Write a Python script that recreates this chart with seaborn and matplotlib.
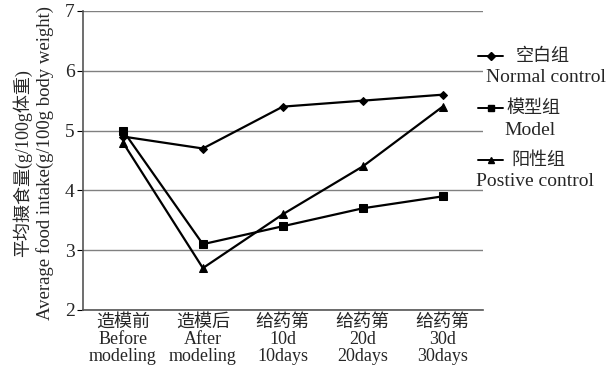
import matplotlib
matplotlib.use("Agg")
import matplotlib.pyplot as plt
import seaborn as sns
import pandas as pd
from matplotlib.lines import Line2D

categories = ["造模前\nBefore\nmodeling", "造模后\nAfter\nmodeling",
              "给药第\n10d\n10days", "给药第\n20d\n20days", "给药第\n30d\n30days"]
normal = [4.9, 4.7, 5.4, 5.5, 5.6]
model = [5.0, 3.1, 3.4, 3.7, 3.9]
positive = [4.8, 2.7, 3.6, 4.4, 5.4]
group_names = ["空白组", "模型组", "阳性组"]
group_english = ["Normal control", "Model", "Postive control"]
yticks = [2, 3, 4, 5, 6, 7]

sns.set_style("white")
plt.rcParams['font.family'] = ['Liberation Serif', 'Noto Sans CJK SC']

rows = []
for g, vals in zip(group_names, [normal, model, positive]):
    for i, v in enumerate(vals):
        rows.append({"x": i, "y": v, "group": g})
df = pd.DataFrame(rows)

fig = plt.figure(figsize=(6.12, 3.78), dpi=100)
ax = fig.add_axes([0.1356, 0.180, 0.653, 0.791])

markers = {"空白组": "D", "模型组": "s", "阳性组": "^"}
sizes = {"空白组": 4, "模型组": 6, "阳性组": 6}
for g in group_names:
    sub = df[df.group == g]
    sns.lineplot(data=sub, x="x", y="y", ax=ax, color="black", lw=1.6,
                 marker=markers[g], markersize=sizes[g], markeredgecolor="black",
                 legend=False, zorder=3)

ax.set_xlim(-0.5, 4.5)
ax.set_ylim(2, 7)
ax.set_yticks(yticks)
ax.set_yticklabels([str(t) for t in yticks], fontsize=14)
ax.set_xticks(range(5))
ax.set_xticklabels(categories, fontsize=13, linespacing=1.0)
ax.set_xticks([0.5, 1.5, 2.5, 3.5, 4.5], minor=True)
ax.tick_params(axis='x', which='major', length=0, pad=3)
ax.tick_params(axis='x', which='minor', length=4, direction='in', color='black')
ax.tick_params(axis='y', which='major', length=4, direction='out', color='black', pad=2, left=True)
ax.yaxis.grid(True, color='#808080', lw=1.0)
ax.set_axisbelow(True)
for s in ["top", "right"]:
    ax.spines[s].set_visible(False)
for s in ["left", "bottom"]:
    ax.spines[s].set_color("#555555")
    ax.spines[s].set_linewidth(1.2)
ax.set_xlabel("")
ax.set_ylabel("")

# two-line y label
W, H = 612, 378
ymid = 1 - 163 / H
fig.text(22 / W, ymid, "平均摄食量(g/100g体重)", fontsize=13, rotation=90,
         ha="center", va="center")
fig.text(45 / W, ymid, "Average food intake(g/100g body weight)", fontsize=13.5,
         rotation=90, ha="center", va="center")

# legend (custom)
entries = [(56, 78, 543, 546), (108, 131, 533, 530), (160, 182, 538, 535)]
mk = ["D", "s", "^"]
ms = [4, 5, 5]
for (yc, ye, xc, xe), g, e, m, s in zip(entries, group_names, group_english, mk, ms):
    fig.add_artist(Line2D([478 / W, 503 / W], [1 - yc / H, 1 - yc / H], color="black",
                          lw=1.4, transform=fig.transFigure))
    fig.add_artist(Line2D([490.5 / W], [1 - yc / H], color="black", marker=m, markersize=s,
                          transform=fig.transFigure))
    fig.text(xc / W, 1 - yc / H, g, fontsize=13, ha="center", va="center")
    fig.text(xe / W, 1 - ye / H, e, fontsize=14, ha="center", va="center")

fig.savefig("out.png", dpi=100)
